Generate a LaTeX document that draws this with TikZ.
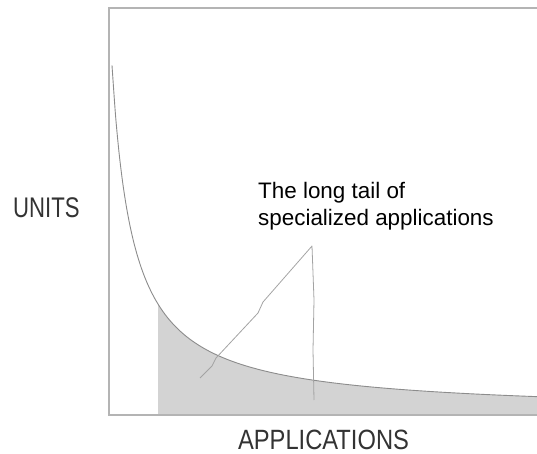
\documentclass[tikz,border=0pt]{standalone}
\usepackage{fontspec}
\setmainfont{Liberation Sans}
\newfontfamily\axisfont[FakeStretch=0.78]{Liberation Sans}
\newfontfamily\axiswidefont[FakeStretch=0.85]{Liberation Sans}
\usetikzlibrary{positioning}

\definecolor{axisgray}{HTML}{B4B4B4}
\definecolor{curvegray}{HTML}{8C8C8C}
\definecolor{tailfill}{HTML}{D3D3D3}
\definecolor{labelgray}{HTML}{333333}

\tikzset{
  axisline/.style={draw=axisgray,line width=1.4bp},
  axislabel/.style={font=\axisfont\fontsize{28.5}{30}\selectfont,text=labelgray,inner sep=0pt},
  pointer/.style={draw=curvegray!80,line width=0.8bp,line join=round}
}

\begin{document}
\begin{tikzpicture}[x=1bp,y=-1bp]
\useasboundingbox (0,0) rectangle (537,454);
% shaded tail under the curve
\fill[tailfill] (158,415) -- plot[domain=158:537,samples=60] (\x,{413-7300/(\x-91)}) -- (537,415) -- cycle;
% axes box
\draw[axisline] (537,8) -- (109,8) -- (109,415) -- (537,415);
% demand curve
\draw[curvegray,line width=0.9bp] plot[domain=112:537,samples=120,smooth] (\x,{413-7300/(\x-91)});
\node[axislabel,anchor=base west] (units) at (13,218) {UNITS};
\node[axislabel,font=\axiswidefont\fontsize{28}{30}\selectfont,anchor=base] (apps) at (323.5,449) {APPLICATIONS};
\node[font=\fontsize{22.5}{27}\selectfont,align=left,anchor=north west,inner sep=0pt] (tail) at (258,182) {The long tail of\\specialized applications};
\coordinate (apex) at (312,246);
\coordinate (headtip) at (200,378);
\coordinate (tailtip) at (314,400);
\draw[pointer] (headtip) -- (212,366) -- (216,358) -- (258,313) -- (263,302) -- (apex) -- (314,300) -- (313,350) -- (tailtip);
\end{tikzpicture}
\end{document}
